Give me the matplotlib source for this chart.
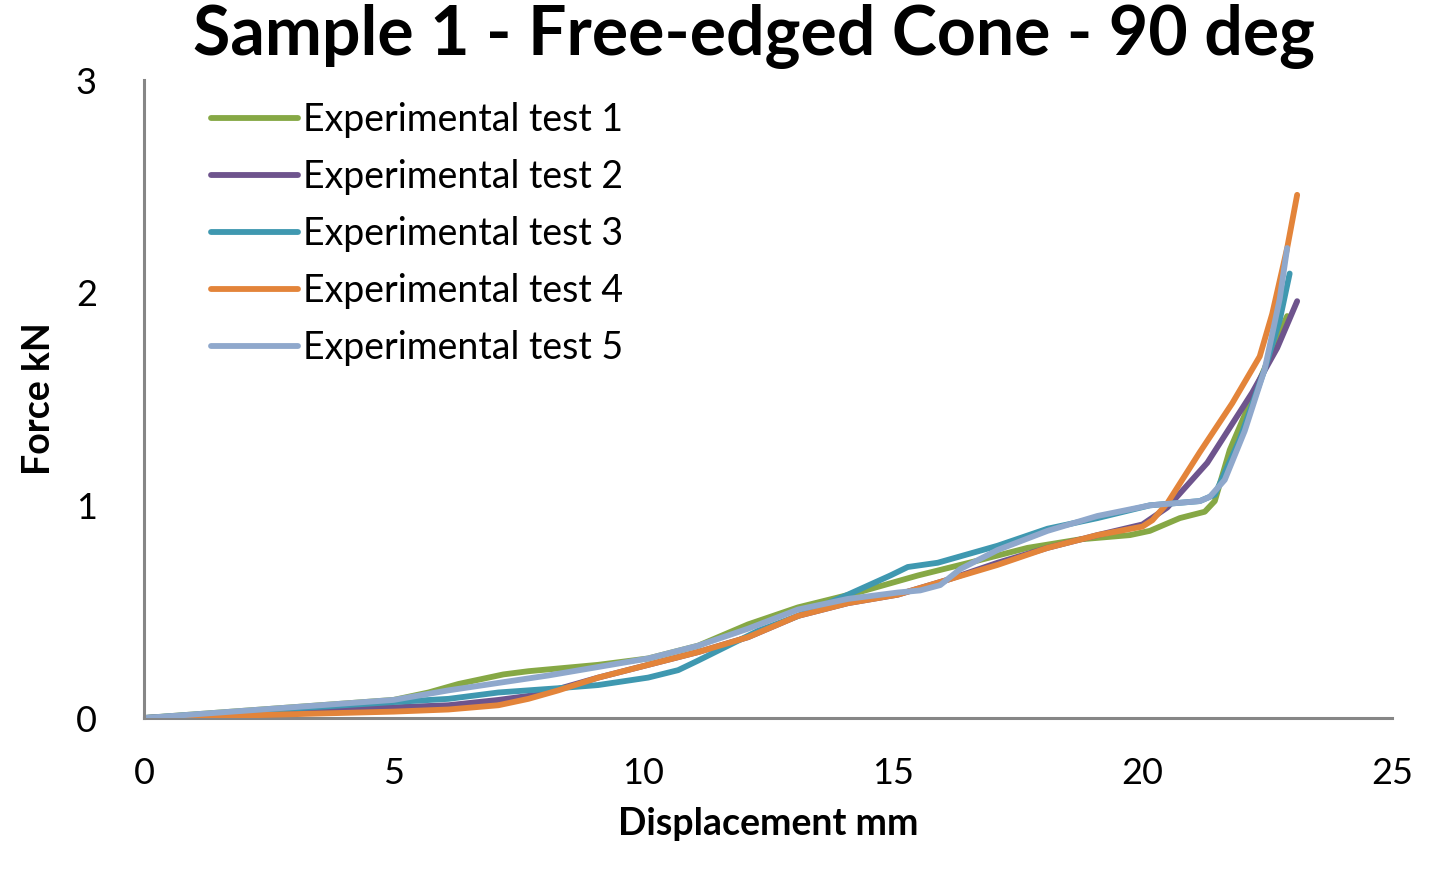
import matplotlib.pyplot as plt

plt.rcParams['font.family'] = ['Lato', 'DejaVu Sans']

x1 = [0, 5, 5.7, 6.3, 6.7, 7.2, 7.7, 9.1, 10.1, 11.1, 12.1, 13.1, 14.3, 15.5, 16.7, 17.7, 18.75, 19.75, 20.15, 20.5, 20.75, 21.25, 21.45, 21.75, 22.35, 22.9]
y1 = [0, 0.085, 0.12, 0.16, 0.18, 0.205, 0.22, 0.25, 0.28, 0.34, 0.44, 0.52, 0.59, 0.67, 0.74, 0.80, 0.84, 0.86, 0.88, 0.915, 0.94, 0.97, 1.02, 1.26, 1.59, 1.89]

x2 = [0, 5, 6.1, 7.1, 7.9, 9.1, 10.1, 11.1, 12.1, 13.1, 14.1, 15.1, 16.1, 17.1, 18.1, 19.1, 20.0, 20.5, 21.3, 22.2, 22.7, 23.1]
y2 = [0, 0.05, 0.06, 0.085, 0.11, 0.19, 0.25, 0.31, 0.38, 0.48, 0.54, 0.58, 0.65, 0.73, 0.80, 0.86, 0.91, 0.99, 1.2, 1.53, 1.74, 1.96]

x3 = [0, 5, 6.1, 7.1, 8.3, 9.1, 10.1, 10.7, 11.1, 11.7, 12.3, 13.1, 14.1, 14.95, 15.3, 15.9, 17.1, 18.1, 19.1, 20.15, 21.15, 21.45, 21.95, 22.45, 22.75, 22.95]
y3 = [0, 0.075, 0.09, 0.12, 0.14, 0.155, 0.19, 0.225, 0.27, 0.34, 0.41, 0.48, 0.58, 0.67, 0.71, 0.73, 0.81, 0.89, 0.94, 1.0, 1.02, 1.05, 1.31, 1.64, 1.87, 2.09]

x4 = [0, 5, 6.1, 7.1, 7.7, 8.3, 9.1, 10.1, 11.1, 12.1, 13.1, 14.1, 15.1, 16.1, 17.1, 18.1, 19.1, 20.0, 20.2, 20.5, 21.15, 21.8, 22.35, 22.6, 22.9, 23.1]
y4 = [0, 0.03, 0.04, 0.06, 0.09, 0.13, 0.19, 0.25, 0.31, 0.38, 0.48, 0.54, 0.58, 0.65, 0.72, 0.80, 0.86, 0.90, 0.93, 1.01, 1.25, 1.48, 1.70, 1.90, 2.21, 2.46]

x5 = [0, 5, 6.1, 7.1, 8.1, 9.1, 10.1, 11.1, 12.1, 13.1, 14.1, 15.1, 15.55, 15.95, 16.35, 17.1, 18.1, 19.1, 20.15, 21.15, 21.35, 21.65, 22.05, 22.45, 22.75, 22.9]
y5 = [0, 0.085, 0.13, 0.165, 0.20, 0.24, 0.28, 0.34, 0.42, 0.51, 0.56, 0.59, 0.60, 0.625, 0.70, 0.79, 0.88, 0.95, 1.0, 1.02, 1.04, 1.12, 1.35, 1.64, 1.97, 2.21]

series = [(x1, y1), (x2, y2), (x3, y3), (x4, y4), (x5, y5)]
labels = ["Experimental test 1", "Experimental test 2", "Experimental test 3",
          "Experimental test 4", "Experimental test 5"]
colors = ["#86A845", "#6E548D", "#3F98B0", "#E3843A", "#8FA8CC"]

fig = plt.figure(figsize=(14.41, 8.76), dpi=100)
ax = fig.add_axes([144 / 1441, 1 - 718 / 876, (1392 - 144) / 1441, (718 - 80) / 876])

for (x, y), label, color in zip(series, labels, colors):
    ax.plot(x, y, color=color, lw=4.2, label=label,
            solid_joinstyle='round', solid_capstyle='round')

ax.set_xlim(0, 25)
ax.set_ylim(0, 3)
ax.set_xticks([0, 5, 10, 15, 20, 25])
ax.set_yticks([0, 1, 2, 3])
ax.tick_params(length=0, labelsize=26, pad=28)
ax.tick_params(axis='y', pad=34)
for s in ['top', 'right']:
    ax.spines[s].set_visible(False)
for s in ['left', 'bottom']:
    ax.spines[s].set_color('#868686')
    ax.spines[s].set_linewidth(2.2)
ax.spines['bottom'].set_zorder(0)

ax.set_xlabel("Displacement mm", fontsize=27, fontweight='bold', labelpad=12)
ax.set_ylabel("Force kN", fontsize=27, fontweight='bold', labelpad=14)
fig.text(754 / 1441, 1 - 55 / 876, "Sample 1 - Free-edged Cone - 90 deg",
         fontsize=49, fontweight='bold', ha='center', va='baseline')

ax.legend(loc='upper left', bbox_to_anchor=(0.03, 1.012), frameon=False, fontsize=27,
          handlelength=2.3, handletextpad=0.15, labelspacing=0.56, borderpad=0.3)

fig.savefig("out.png", dpi=100)
